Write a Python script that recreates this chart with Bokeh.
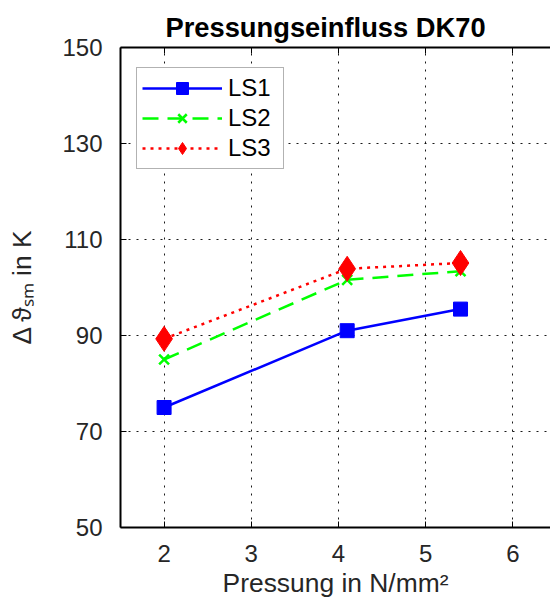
from bokeh.plotting import figure
from bokeh.models import Range1d, LinearAxis, Legend, LegendItem, FixedTicker
from bokeh.embed import file_html
from bokeh.resources import INLINE

# data
pressure = [2.0, 4.1, 5.4]
ls1 = [75.0, 91.0, 95.5]
ls2 = [85.0, 101.6, 103.4]
ls3 = [89.3, 103.9, 105.1]
x_ticks = [2, 3, 4, 5, 6]
y_ticks = [50, 70, 90, 110, 130, 150]

FONT = "Liberation Sans"
TXT = "#262626"

p = figure(width=550, height=601, output_backend="svg", toolbar_location=None,
           x_range=Range1d(1.5, 6.432), y_range=Range1d(50, 150),
           x_axis_location="below", y_axis_location="left",
           min_border_left=120, min_border_right=0, min_border_top=47, min_border_bottom=74)
p.outline_line_color = None
p.background_fill_color = "white"
p.border_fill_color = "white"

p.title.text = "Pressungseinfluss DK70"
p.title.text_font = FONT
p.title.text_font_size = "27.3px"
p.title.text_font_style = "bold"
p.title.text_color = "black"
p.title.align = "left"
p.title.offset = 45

for ax in (p.xaxis[0], p.yaxis[0]):
    ax.axis_line_color = "black"
    ax.axis_line_width = 2
    ax.major_tick_in = 6
    ax.major_tick_out = 0
    ax.major_tick_line_color = "black"
    ax.minor_tick_line_color = None
    ax.major_label_text_font = FONT
    ax.major_label_text_font_size = "24px"
    ax.major_label_text_color = TXT
    ax.axis_label_text_font = FONT
    ax.axis_label_text_font_size = "26.4px"
    ax.axis_label_text_font_style = "normal"
    ax.axis_label_text_color = TXT

p.xaxis.ticker = FixedTicker(ticks=x_ticks)
p.yaxis.ticker = FixedTicker(ticks=y_ticks)
p.xaxis.major_label_standoff = 17
p.yaxis.major_label_standoff = 18
p.xaxis.axis_label = "Pressung in N/mm²"
p.xaxis.axis_label_standoff = 3
p.yaxis.axis_label = "Δ\u2009ϑₛₘ in K"
p.yaxis.axis_label_standoff = 22

top = LinearAxis(ticker=FixedTicker(ticks=x_ticks), major_label_text_font_size="0px",
                 major_tick_in=6, major_tick_out=0, axis_line_width=2,
                 minor_tick_line_color=None, major_label_standoff=0)
top.major_label_overrides = {t: "" for t in x_ticks}
p.add_layout(top, "above")

for g in (p.xgrid[0], p.ygrid[0]):
    g.grid_line_color = "black"
    g.grid_line_dash = "2 6"
    g.grid_line_width = 1
    g.grid_line_alpha = 0.9
p.xgrid.ticker = FixedTicker(ticks=x_ticks)
p.ygrid.ticker = FixedTicker(ticks=y_ticks)

l1 = p.line(pressure, ls1, line_color="#0000ff", line_width=2.5)
m1 = p.scatter(pressure, ls1, marker="square", size=14, fill_color="#0000ff", line_color="#0000ff")
l2 = p.line(pressure, ls2, line_color="#00ff00", line_width=2.5, line_dash="16 9")
m2 = p.scatter(pressure, ls2, marker="x", size=14, line_color="#00ff00", line_width=2.5)
l3 = p.line(pressure, ls3, line_color="#ff0000", line_width=2.5, line_dash="3 5")
m3 = p.scatter(pressure, ls3, marker="diamond", size=25, fill_color="#ff0000", line_color="#ff0000")

legend = Legend(items=[LegendItem(label="LS1", renderers=[l1, m1]),
                       LegendItem(label="LS2", renderers=[l2, m2]),
                       LegendItem(label="LS3", renderers=[l3, m3])],
                location=(16, 480 - 22 - 100))
legend.label_text_font = FONT
legend.label_text_font_size = "24px"
legend.label_text_color = "black"
legend.glyph_width = 80
legend.glyph_height = 30
legend.label_height = 30
legend.label_width = 50
legend.label_standoff = 6
legend.spacing = 0
legend.padding = 5
legend.margin = 0
legend.border_line_color = "#666666"
legend.border_line_width = 1
legend.background_fill_alpha = 1
p.add_layout(legend, "center")

open("out.html", "w").write(file_html(p, INLINE))
